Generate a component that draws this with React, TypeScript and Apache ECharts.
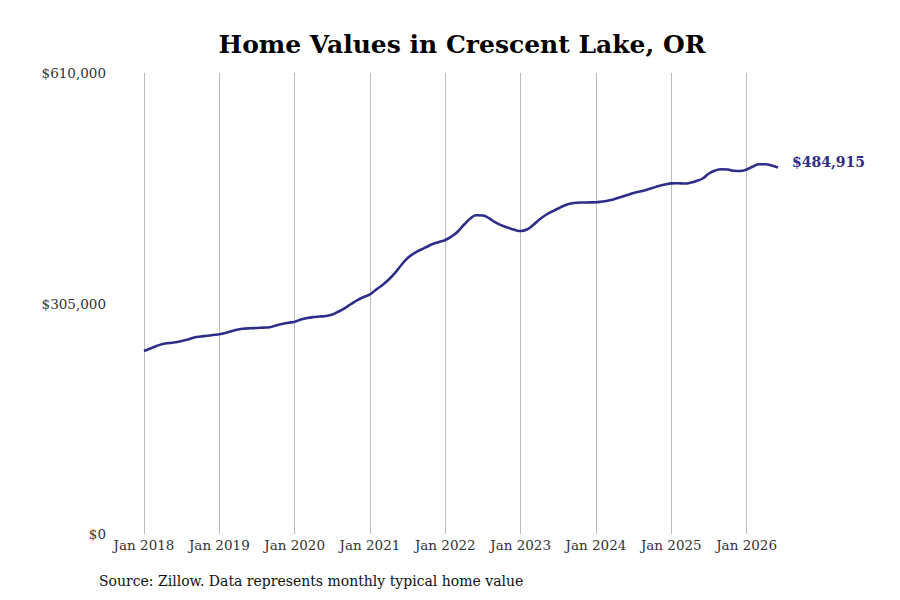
import React, { useEffect, useRef } from 'react';
import * as echarts from 'echarts';

const startYear = 2018;
const months = ['Jan', 'Feb', 'Mar', 'Apr', 'May', 'Jun', 'Jul', 'Aug', 'Sep', 'Oct', 'Nov', 'Dec'];

// monthly typical home value, Jan 2018 .. Jun 2026
const values = [
  242150, 245450, 248760, 251400, 252700, 253660, 255380, 257360, 260000, 261330, 262260, 263300,
  264200, 266000, 268600, 270600, 271700, 272200, 272600, 273100, 273600, 275900, 277900, 279500,
  280900, 283800, 285800, 287100, 287800, 288500, 290400, 294400, 299000, 304300, 309600, 313600,
  317200, 323500, 329500, 336800, 345400, 355900, 365200, 371200, 375800, 379800, 383700, 386400,
  389000, 393700, 400300, 409500, 417500, 421700, 421400, 417500, 412200, 408200, 405200, 402500,
  400900, 402900, 408900, 416200, 422100, 426700, 430700, 434700, 437300, 438400, 438600, 438800,
  438900, 440000, 441300, 443300, 445900, 448600, 451200, 453200, 455200, 457800, 460500, 462500,
  464000, 464200, 463800, 464700, 467100, 470400, 477000, 481000, 482600, 482300, 480600, 480300,
  482300, 486300, 489300, 489200, 487600, 484915,
];

const categories = values.map((_, i) => `${months[i % 12]} ${startYear + Math.floor(i / 12)}`);
const yTicks = [0, 305000, 610000];

const FONT = '"DejaVu Serif", serif';
const LINE = '#2e2e8a';

const fmt = (v: number) => '$' + Math.round(v).toLocaleString('en-US');

export default function App() {
  const ref = useRef<HTMLDivElement>(null);

  useEffect(() => {
    if (!ref.current) return;
    const chart = echarts.init(ref.current, null, { renderer: 'svg' });
    const isJan = (i: number) => i % 12 === 0;

    chart.setOption({
      animation: false,
      backgroundColor: '#fff',
      title: {
        text: 'Home Values in Crescent Lake, OR',
        left: 457,
        top: 27,
        textAlign: 'center',
        textStyle: { fontFamily: FONT, fontWeight: 'bold', fontSize: 25, color: '#000' },
      },
      grid: { left: 144, right: 122, top: 73, bottom: 66, containLabel: false },
      xAxis: {
        type: 'category',
        data: categories,
        boundaryGap: false,
        axisLine: { show: false },
        axisTick: { show: false },
        axisLabel: {
          interval: (i: number) => isJan(i),
          fontFamily: FONT,
          fontSize: 13.5,
          color: '#333',
          margin: 4,
        },
        splitLine: {
          show: true,
          interval: (i: number) => isJan(i),
          lineStyle: { color: '#bbb', width: 1 },
        },
      },
      yAxis: {
        type: 'value',
        min: yTicks[0],
        max: yTicks[yTicks.length - 1],
        interval: yTicks[1] - yTicks[0],
        axisLine: { show: false },
        axisTick: { show: false },
        splitLine: { show: false },
        axisLabel: {
          formatter: (v: number) => fmt(v),
          fontFamily: FONT,
          fontSize: 13.5,
          color: '#333',
          margin: 38,
        },
      },
      series: [
        {
          type: 'line',
          data: values,
          smooth: true,
          symbol: 'none',
          lineStyle: { color: LINE, width: 2.6 },
          endLabel: {
            show: true,
            formatter: (p: any) => fmt(p.value),
            fontFamily: FONT,
            fontWeight: 'bold',
            fontSize: 14,
            color: LINE,
            distance: 14,
            offset: [0, -6],
          },
        },
      ],
      graphic: [
        {
          type: 'text',
          left: 99,
          top: 574,
          style: {
            text: 'Source: Zillow. Data represents monthly typical home value',
            font: `14px ${FONT}`,
            fill: '#111',
          },
        },
      ],
    });

    return () => chart.dispose();
  }, []);

  return <div ref={ref} style={{ width: 900, height: 600, margin: -8 }} />;
}
